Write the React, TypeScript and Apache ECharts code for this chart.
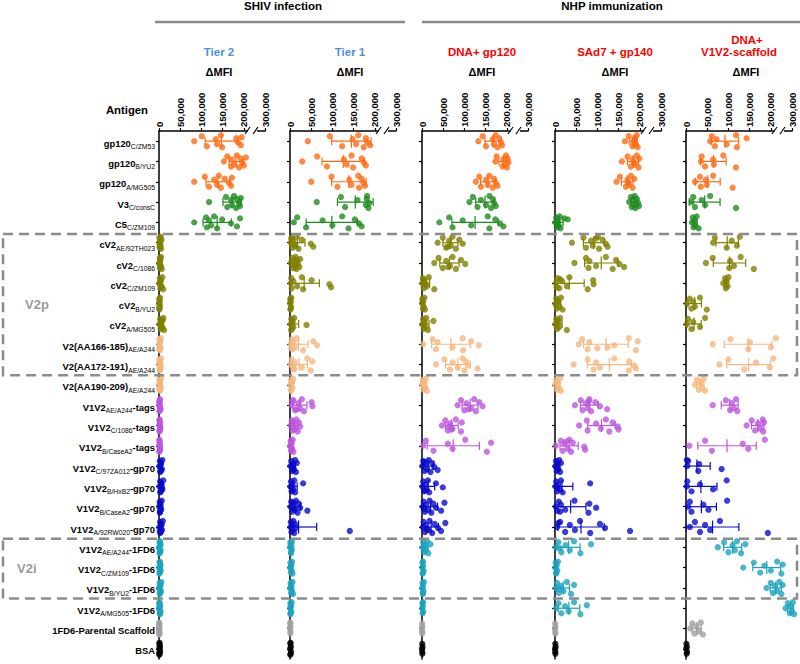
import React, { useEffect, useRef } from 'react';
import * as echarts from 'echarts';

// ---------- categories ----------
const antigenMain = [
  'gp120', 'gp120', 'gp120', 'V3', 'C5',
  'cV2', 'cV2', 'cV2', 'cV2', 'cV2',
  'V2(AA166-185)', 'V2(AA172-191)', 'V2(AA190-209)',
  'V1V2', 'V1V2', 'V1V2',
  'V1V2', 'V1V2', 'V1V2', 'V1V2',
  'V1V2', 'V1V2', 'V1V2', 'V1V2',
  '1FD6-Parental Scaffold', 'BSA',
];
const antigenSub = [
  'C/ZM53', 'B/YU2', 'A/MG505', 'C/consC', 'C/ZM109',
  'AE/92TH023', 'C/1086', 'C/ZM109', 'B/YU2', 'A/MG505',
  'AE/A244', 'AE/A244', 'AE/A244',
  'AE/A244', 'C/1086', 'B/CaseA2',
  'C/97ZA012', 'B/HxB2', 'B/CaseA2', 'A/92RW020',
  'AE/A244', 'C/ZM109', 'B/YU2', 'A/MG505',
  '', '',
];
const antigenTail = [
  '', '', '', '', '',
  '', '', '', '', '',
  '', '', '',
  '-tags', '-tags', '-tags',
  '-gp70', '-gp70', '-gp70', '-gp70',
  '-1FD6', '-1FD6', '-1FD6', '-1FD6',
  '', '',
];
const ORANGE = '#FF6A13';
const GREEN = '#1E8B1E';
const OLIVE = '#808000';
const PEACH = '#F5B77E';
const PURPLE = '#BC55DE';
const BLUE = '#0A0ACB';
const TEAL = '#1BA3BE';
const GRAY = '#A0A0A0';
const BLACK = '#000000';
const rowColors = [
  ORANGE, ORANGE, ORANGE, GREEN, GREEN,
  OLIVE, OLIVE, OLIVE, OLIVE, OLIVE,
  PEACH, PEACH, PEACH,
  PURPLE, PURPLE, PURPLE,
  BLUE, BLUE, BLUE, BLUE,
  TEAL, TEAL, TEAL, TEAL,
  GRAY, BLACK,
];

const groupTitles = ['SHIV infection', 'NHP immunization'];
const panelTitles = [['Tier 2'], ['Tier 1'], ['DNA+ gp120'], ['SAd7 + gp140'], ['DNA+', 'V1V2-scaffold']];
const panelTitleColors = ['#4A8FE7', '#4A8FE7', '#FF0000', '#FF0000', '#FF0000'];
const xAxisName = 'ΔMFI';
const xTickLabels = ['0', '50,000', '100,000', '150,000', '200,000', '300,000'];

// ---------- values (ΔMFI per animal) ----------
const tier2Values = [
  [83000, 101000, 113000, 134000, 137000, 146000, 149000, 182000, 186000, 193000, 195000],
  [153000, 161000, 170000, 172000, 177000, 184000, 189000, 193000, 196000, 200000, 205000],
  [83000, 108000, 118000, 130000, 137000, 141000, 146000, 155000, 165000, 170000, 172000],
  [118000, 158000, 161000, 170000, 172000, 177000, 182000, 184000, 189000, 191000, 193000],
  [83000, 111000, 113000, 118000, 123000, 130000, 137000, 149000, 170000, 184000, 191000],
  [500, 1000, 2000, 2500, 3500, 4000, 5000, 6000, 3000, 1500],
  [800, 1500, 2000, 3000, 4500, 5000, 6500, 2500, 1200, 3500],
  [1000, 2000, 3000, 4000, 6000, 8000, 10000, 3500, 1500, 5000],
  [300, 600, 1000, 1500, 2000, 2500, 800, 1200, 1800, 400],
  [1000, 2500, 4000, 6000, 8000, 10000, 12000, 5000, 3000, 7000, 9000],
  [500, 1000, 1500, 2500, 3500, 4500, 2000, 3000, 1200, 800],
  [600, 1200, 2000, 3000, 4000, 5000, 2500, 1500, 3500, 900],
  [500, 1000, 2000, 3000, 4000, 5000, 2500, 1500, 3500, 800],
  [500, 1000, 1500, 2000, 3000, 2500, 1200, 800, 1800, 3500],
  [600, 1200, 2000, 2600, 3200, 1500, 900, 2200, 2800, 1800],
  [400, 900, 1400, 2000, 2500, 1200, 700, 1700, 3000, 2200],
  [1000, 2000, 3500, 5000, 6500, 8000, 3000, 4500, 2500, 6000],
  [1000, 2500, 4000, 6000, 8000, 10000, 3000, 5000, 7000, 4500],
  [800, 1600, 2500, 3500, 5000, 6500, 2000, 3000, 4200, 2800],
  [1000, 2500, 4000, 5500, 7000, 9000, 3000, 6000, 4500, 2000],
  [500, 1200, 2000, 3000, 4000, 2500, 1500, 3500, 1000, 2200],
  [600, 1400, 2200, 3000, 4000, 2000, 1000, 3500, 2600, 1800],
  [500, 1500, 2500, 3500, 4500, 5500, 2000, 3000, 1000, 4000],
  [500, 1000, 2000, 3000, 3500, 1500, 2500, 1200, 800, 2200],
  [200, 500, 800, 1000, 1200, 600, 900, 400, 700, 300],
  [500, 1000, 1500, 2000, 2500, 1200, 800, 1800, 2200, 600],
];
const tier1Values = [
  [42000, 94000, 123000, 148000, 156000, 161000, 174000, 179000, 182000, 189000],
  [29000, 64000, 87000, 127000, 134000, 145000, 149000, 169000, 174000, 179000],
  [50000, 98000, 112000, 140000, 145000, 161000, 163000, 169000, 173000, 177000],
  [63000, 120000, 130000, 159000, 179000, 182000, 185000, 181000, 187000],
  [9000, 17000, 38000, 77000, 100000, 123000, 138000, 153000, 163000, 169000],
  [2000, 4000, 6000, 8000, 12000, 16000, 20000, 28000, 49000, 55000, 3000, 10000],
  [2000, 5000, 7000, 9000, 11000, 13000, 15000, 17000, 19000, 22000, 24000, 10000],
  [2000, 3000, 4000, 8000, 17000, 28000, 31000, 51000, 93000, 97000],
  [500, 1000, 1500, 2000, 2500, 3000, 1200, 800],
  [1500, 3000, 4500, 6000, 8000, 10000, 2500, 5000, 39000],
  [2000, 4000, 6000, 8000, 12000, 16000, 31000, 55000, 64000, 3000],
  [2000, 4000, 8000, 12000, 28000, 41000, 49000, 53000, 6000, 10000],
  [1000, 2000, 3000, 4500, 6000, 8000, 2500, 5000],
  [4000, 8000, 12000, 20000, 24000, 28000, 33000, 51000, 53000, 16000, 6000],
  [2000, 4000, 6000, 9000, 12000, 15000, 18000, 21000, 24000, 10000, 7000],
  [500, 1500, 2500, 3500, 5000, 6500, 8000, 3000, 2000, 4000],
  [1000, 3000, 5000, 7000, 9000, 12000, 14000, 16000, 4000, 8000],
  [1000, 2500, 4000, 6000, 8000, 10000, 12000, 31000, 3000, 5000],
  [1500, 3000, 5000, 8000, 11000, 14000, 18000, 21000, 24000, 41000, 6000, 9000],
  [1000, 2000, 3500, 5000, 6500, 8000, 10000, 12000, 14000, 141000],
  [500, 1000, 2000, 3000, 4000, 5000, 2500, 1500, 3500],
  [500, 1000, 2000, 3000, 4000, 5000, 6000, 2500, 1500],
  [500, 1500, 2500, 3500, 4500, 6000, 7000, 2000, 3000],
  [400, 900, 1500, 2200, 3000, 3800, 1200, 2500],
  [200, 500, 800, 1000, 1300, 600],
  [500, 1000, 1500, 2000, 2500, 1200, 800],
];
const dnaGp120Values = [
  [133000, 143000, 151000, 167000, 170000, 174000, 178000, 182000, 186000, 189000],
  [173000, 176000, 190000, 192000, 195000, 198000, 200000, 202000, 204000],
  [127000, 135000, 139000, 151000, 155000, 159000, 167000, 170000, 174000, 178000],
  [112000, 120000, 131000, 139000, 151000, 159000, 163000, 167000, 170000, 174000],
  [41000, 64000, 72000, 96000, 116000, 155000, 159000, 173000, 184000, 192000],
  [37000, 49000, 57000, 64000, 68000, 72000, 80000, 88000, 96000, 60000],
  [29000, 39000, 49000, 57000, 66000, 72000, 80000, 92000, 102000, 62000],
  [1000, 2000, 4000, 6000, 12000, 16000, 29000, 3000, 8000],
  [500, 1000, 2000, 3000, 4500, 6000, 7000, 1500],
  [1000, 2500, 4000, 6000, 8000, 10000, 14000, 27000, 3000],
  [3000, 25000, 33000, 37000, 72000, 96000, 97000, 116000, 134000],
  [33000, 53000, 66000, 72000, 84000, 96000, 100000, 104000, 108000, 131000],
  [1000, 2500, 4000, 6000, 8000, 10000, 12000, 3000, 5000],
  [84000, 92000, 100000, 105000, 116000, 123000, 127000, 135000, 143000, 110000],
  [47000, 55000, 61000, 66000, 72000, 80000, 92000, 94000, 64000, 70000],
  [3000, 9000, 27000, 61000, 72000, 102000, 153000, 163000],
  [1000, 3000, 6000, 9000, 12000, 16000, 20000, 24000, 29000, 37000, 5000],
  [1000, 3000, 5000, 8000, 11000, 14000, 17000, 33000, 49000, 6000],
  [2000, 4000, 7000, 10000, 14000, 18000, 22000, 27000, 33000, 45000, 53000, 5000],
  [2000, 4000, 7000, 10000, 14000, 18000, 24000, 30000, 38000, 45000, 55000, 12000],
  [1500, 3000, 5000, 7000, 9000, 12000, 15000, 20000, 4000],
  [500, 1000, 2000, 3000, 4000, 2500, 1500],
  [500, 1000, 1800, 2500, 3500, 4500, 2000],
  [500, 1000, 1500, 2000, 3000, 2500],
  [200, 400, 600, 900, 300],
  [300, 600, 900, 1200, 500],
];
const sad7Values = [
  [165000, 174000, 183000, 187000, 191000, 193000, 195000, 189000, 185000],
  [158000, 171000, 179000, 183000, 189000, 193000, 197000, 199000, 186000],
  [145000, 153000, 167000, 171000, 175000, 179000, 183000, 187000, 172000],
  [175000, 179000, 181000, 184000, 186000, 188000, 190000, 193000, 196000, 198000],
  [1000, 3000, 5000, 7000, 9000, 11000, 13000, 30000, 4000, 8000, 22000],
  [40000, 67000, 73000, 85000, 89000, 101000, 104000, 112000, 120000, 124000, 96000],
  [46000, 73000, 79000, 81000, 97000, 120000, 136000, 144000, 152000, 163000],
  [2000, 6000, 10000, 17000, 28000, 34000, 77000, 90000, 91000, 4000, 12000],
  [1000, 3000, 5000, 8000, 11000, 14000, 18000, 6000, 2000],
  [1000, 3000, 5000, 8000, 10000, 12000, 28000, 6000, 4000],
  [56000, 64000, 77000, 81000, 124000, 174000, 191000, 195000, 140000, 100000],
  [44000, 77000, 91000, 97000, 106000, 140000, 174000, 175000, 187000, 191000],
  [1000, 3000, 5000, 7000, 9000, 12000, 14000, 4000],
  [47000, 61000, 65000, 73000, 77000, 81000, 85000, 95000, 106000, 123000, 80000],
  [57000, 75000, 77000, 97000, 108000, 120000, 128000, 136000, 148000, 150000],
  [2000, 14000, 18000, 22000, 30000, 34000, 38000, 42000, 69000, 71000, 26000],
  [1000, 2500, 4000, 6000, 8000, 10000, 12000, 14000, 3000],
  [1000, 3000, 5000, 8000, 11000, 14000, 18000, 83000, 6000],
  [2000, 9000, 12000, 14000, 24000, 46000, 79000, 81000, 97000, 5000],
  [5000, 12000, 24000, 35000, 47000, 59000, 83000, 106000, 118000, 177000, 8000],
  [2000, 8000, 15000, 25000, 35000, 45000, 60000, 85000, 12000],
  [500, 1500, 2500, 4000, 5500, 7000, 3000],
  [2000, 5000, 9000, 14000, 20000, 28000, 38000, 45000, 11000],
  [3000, 8000, 15000, 24000, 32000, 45000, 60000, 75000],
  [200, 500, 900, 1200, 600],
  [300, 700, 1000, 1500, 500],
];
const scaffoldValues = [
  [57000, 61000, 68000, 72000, 96000, 118000, 120000, 143000],
  [35000, 37000, 45000, 64000, 66000, 88000, 118000],
  [21000, 33000, 35000, 47000, 49000, 64000, 110000],
  [13000, 17000, 21000, 37000, 45000, 57000, 118000],
  [14000, 16000, 18000, 20000, 22000, 25000, 30000],
  [64000, 68000, 96000, 108000, 120000, 127000],
  [47000, 63000, 102000, 104000, 113000, 129000, 160000],
  [88000, 92000, 94000, 96000, 98000, 100000],
  [2000, 9000, 13000, 17000, 21000, 33000, 49000],
  [2000, 5000, 13000, 17000, 33000, 45000],
  [63000, 105000, 147000, 151000, 200000, 212000],
  [79000, 100000, 138000, 165000, 198000, 206000],
  [21000, 26000, 30000, 34000, 38000, 42000, 45000],
  [63000, 94000, 104000, 108000, 113000, 118000, 121000],
  [143000, 155000, 163000, 170000, 175000, 181000, 182000, 184000],
  [8000, 45000, 61000, 134000, 147000, 186000],
  [3000, 5000, 29000, 31000, 84000, 2000],
  [2000, 3000, 13000, 33000, 64000, 96000],
  [5000, 9000, 13000, 41000, 53000, 97000],
  [9000, 21000, 33000, 45000, 57000, 80000, 193000],
  [75000, 90000, 100000, 110000, 115000, 120000, 130000, 140000],
  [135000, 160000, 175000, 185000, 200000, 215000, 225000, 228000],
  [190000, 200000, 205000, 210000, 215000, 220000, 225000, 228000],
  [285000, 290000, 295000, 298000, 300000, 302000, 305000],
  [10000, 15000, 20000, 25000, 30000, 35000, 40000],
  [500, 1000, 1500, 2000, 2500],
];
const panelValues = [tier2Values, tier1Values, dnaGp120Values, sad7Values, scaffoldValues];

// ---------- layout ----------
const FONT = '"Liberation Sans", Arial, sans-serif';
const GRID_LEFTS = [159, 290, 422, 555, 686];
const GRID_W = 106;
const GRID_TOP = 131;
const GRID_H = 528;
const NROWS = antigenMain.length;
const BAND = GRID_H / NROWS;
const JITTER = [0, -5, 5, -2, 3, -6, 6, -3, 1, 4, -4, 2];

// axis break: values above 230k are drawn past the "//" mark (300,000 sits at 250,000 on the drawn scale)
function brk(v: number) {
  return v > 230000 ? v - 50000 : v;
}
function stats(vals: number[]) {
  const n = vals.length;
  const mean = vals.reduce((a, b) => a + b, 0) / n;
  const sd = Math.sqrt(vals.reduce((a, b) => a + (b - mean) * (b - mean), 0) / (n - 1));
  return { mean, sd };
}

function buildOption() {
  const grid = GRID_LEFTS.map((l) => ({ left: l, top: GRID_TOP, width: GRID_W, height: GRID_H, containLabel: false }));
  const xAxis = GRID_LEFTS.map((_, i) => ({
    type: 'value',
    gridIndex: i,
    position: 'top',
    min: 0,
    max: 250000,
    interval: 50000,
    axisLine: { show: true, lineStyle: { color: '#000', width: 1.5 } },
    axisTick: { show: true, length: 3, lineStyle: { color: '#000', width: 1.2 } },
    splitLine: { show: false },
    axisLabel: {
      rotate: -90,
      margin: 4,
      fontSize: 9.5,
      fontWeight: 'bold',
      color: '#000',
      fontFamily: FONT,
      formatter: (v: number) => xTickLabels[Math.round(v / 50000)] ?? '',
    },
  }));
  const yAxis = GRID_LEFTS.map((_, i) => ({
    type: 'category',
    gridIndex: i,
    inverse: true,
    data: antigenMain.map((m, k) => 'row' + k),
    axisLine: { show: true, lineStyle: { color: '#000', width: 1.5 } },
    axisTick: { show: true, length: 3, alignWithLabel: true, interval: 0, lineStyle: { color: '#000', width: 1.2 } },
    splitLine: { show: false },
    axisLabel:
      i === 0
        ? {
            show: true,
            interval: 0,
            margin: 4,
            formatter: (_v: string, k: number) => {
              let s = `{b|${antigenMain[k]}}`;
              if (antigenSub[k]) s += `{s|${antigenSub[k]}}`;
              if (antigenTail[k]) s += `{b|${antigenTail[k]}}`;
              return s;
            },
            rich: {
              b: { fontSize: 9.4, fontWeight: 'bold', color: '#000', fontFamily: FONT, padding: [4, 0, 0, 0] },
              s: { fontSize: 6.8, color: '#000', fontFamily: FONT, padding: [11, 0, 0, 0] },
            },
          }
        : { show: false },
  }));

  const series: any[] = [];
  panelValues.forEach((rows, p) => {
    const pts: any[] = [];
    const bars: any[] = [];
    rows.forEach((vals, r) => {
      vals.forEach((v, k) => {
        pts.push({ value: [brk(v), r], symbolOffset: [0, JITTER[k % JITTER.length]], itemStyle: { color: rowColors[r] } });
      });
      const { mean, sd } = stats(vals);
      bars.push({
        value: [brk(mean), brk(Math.max(0, mean - sd)), brk(mean + sd), r],
        itemStyle: { color: rowColors[r] },
      });
    });
    series.push({
      type: 'scatter',
      xAxisIndex: p,
      yAxisIndex: p,
      symbol: 'circle',
      symbolSize: 6.3,
      clip: false,
      silent: true,
      data: pts,
      z: 3,
    });
    series.push({
      type: 'custom',
      xAxisIndex: p,
      yAxisIndex: p,
      silent: true,
      z: 4,
      encode: { x: [0, 1, 2], y: 3 },
      data: bars,
      renderItem: (_params: any, api: any) => {
        const row = api.value(3);
        const c = api.coord([api.value(0), row]);
        const lo = api.coord([api.value(1), row]);
        const hi = api.coord([api.value(2), row]);
        const color = api.visual('color');
        const st = { stroke: color, lineWidth: 1.2 };
        return {
          type: 'group',
          children: [
            { type: 'line', shape: { x1: lo[0], y1: c[1], x2: hi[0], y2: c[1] }, style: st },
            { type: 'line', shape: { x1: c[0], y1: c[1] - 6.5, x2: c[0], y2: c[1] + 6.5 }, style: st },
            { type: 'line', shape: { x1: lo[0], y1: c[1] - 4, x2: lo[0], y2: c[1] + 4 }, style: st },
            { type: 'line', shape: { x1: hi[0], y1: c[1] - 4, x2: hi[0], y2: c[1] + 4 }, style: st },
          ],
        };
      },
    });
  });

  // ---------- decorations ----------
  const graphic: any[] = [];
  const txt = (text: string, x: number, y: number, size: number, color: string, align = 'center', weight = 'bold') => ({
    type: 'text',
    x,
    y,
    z: 10,
    silent: true,
    style: {
      text,
      fill: color,
      font: `${weight} ${size}px ${FONT}`,
      textAlign: align,
      textVerticalAlign: 'middle',
    },
  });
  graphic.push(txt(groupTitles[0], 283, 6, 11.5, '#000'));
  graphic.push(txt(groupTitles[1], 612, 6, 11.5, '#000'));
  graphic.push({ type: 'line', z: 10, shape: { x1: 155, y1: 22, x2: 405, y2: 22 }, style: { stroke: '#8C8C8C', lineWidth: 2.5 } });
  graphic.push({ type: 'line', z: 10, shape: { x1: 422, y1: 22, x2: 800, y2: 22 }, style: { stroke: '#8C8C8C', lineWidth: 2.5 } });
  GRID_LEFTS.forEach((gx, p) => {
    const t = panelTitles[p];
    if (t.length === 1) {
      graphic.push(txt(t[0], gx + 60, 52, 11.5, panelTitleColors[p]));
    } else {
      graphic.push(txt(t[0], gx + 61, 40, 11.5, panelTitleColors[p]));
      graphic.push(txt(t[1], gx + 53, 52, 11.5, panelTitleColors[p]));
    }
    graphic.push(txt(xAxisName, gx + 60, 72, 11, '#000'));
    // axis break "//"
    graphic.push({ type: 'rect', z: 11, shape: { x: gx + 89, y: GRID_TOP - 2, width: 9, height: 4 }, style: { fill: '#fff' } });
    graphic.push({ type: 'line', z: 12, shape: { x1: gx + 86, y1: GRID_TOP + 3, x2: gx + 91, y2: GRID_TOP - 4 }, style: { stroke: '#000', lineWidth: 1.2 } });
    graphic.push({ type: 'line', z: 12, shape: { x1: gx + 94, y1: GRID_TOP + 3, x2: gx + 99, y2: GRID_TOP - 4 }, style: { stroke: '#000', lineWidth: 1.2 } });
  });
  graphic.push(txt('Antigen', 148, 110, 11.3, '#000', 'right'));

  const boxes = [
    { label: 'V2p', r0: 5, r1: 12, lx: 25 },
    { label: 'V2i', r0: 20, r1: 23, lx: 17 },
  ];
  boxes.forEach((b) => {
    const y0 = GRID_TOP + b.r0 * BAND + 1.5;
    const y1 = GRID_TOP + b.r1 * BAND + 0.5;
    graphic.push({
      type: 'rect',
      z: 20,
      silent: true,
      shape: { x: 3, y: y0, width: 794, height: y1 - y0 },
      style: { fill: 'none', stroke: '#8C8C8C', lineWidth: 2.5, lineDash: [10, 6] },
    });
    graphic.push(txt(b.label, b.lx, (y0 + y1) / 2, 13, '#9A9A9A', 'left'));
  });

  return { animation: false, backgroundColor: '#fff', grid, xAxis, yAxis, series, graphic };
}

export default function App() {
  const ref = useRef<HTMLDivElement>(null);
  useEffect(() => {
    document.body.style.margin = '0';
    if (!ref.current) return;
    const chart = echarts.init(ref.current, undefined, { renderer: 'svg' });
    chart.setOption(buildOption() as any);
    return () => chart.dispose();
  }, []);
  return <div ref={ref} style={{ width: 800, height: 664 }} />;
}
